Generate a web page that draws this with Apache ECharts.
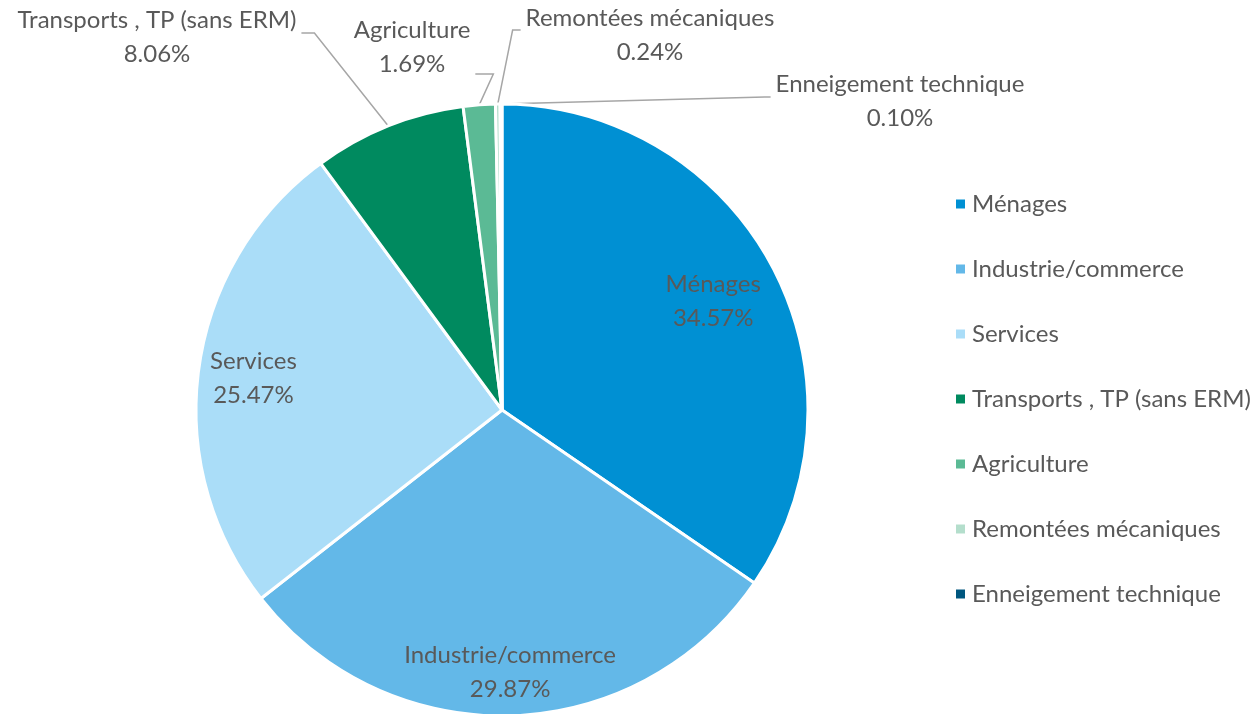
<!DOCTYPE html>
<html>
<head>
<meta charset="utf-8">
<script src="https://cdn.jsdelivr.net/npm/echarts@6/dist/echarts.min.js"></script>
<style>
  html, body { margin: 0; padding: 0; background: #fff; }
  #chart { width: 1258px; height: 714px; }
</style>
</head>
<body>
<div id="chart"></div>
<script>
// données
var categories = ['Ménages', 'Industrie/commerce', 'Services', 'Transports , TP (sans ERM)', 'Agriculture', 'Remontées mécaniques', 'Enneigement technique'];
var values = [34.57, 29.87, 25.47, 8.06, 1.69, 0.24, 0.10];
var colors = ['#0090D3', '#63B8E8', '#AADDF8', '#008A5F', '#5BBA95', '#B4DECC', '#00577F'];

var CX = 502, CY = 410, R = 306;

// placement des étiquettes (intérieur : fraction du rayon ; extérieur : position fixe)
var labelPos = [
  { inside: 0.78 },
  { inside: 0.85 },
  { inside: 0.82 },
  { cx: 157, cy: 37, side: 'right', ly: 33, len: 13 },
  { cx: 412, cy: 47, side: 'right', ly: 74, len: 18 },
  { cx: 650, cy: 35, side: 'left', ly: 30, len: 8 },
  { cx: 900, cy: 101, side: 'left', ly: 97, len: 6 }
];

var total = values.reduce(function (a, b) { return a + b; }, 0);
var mids = [];
(function () {
  var cum = 0;
  values.forEach(function (v) {
    mids.push((cum + v / 2) / total * 2 * Math.PI);
    cum += v;
  });
})();

var chart = echarts.init(document.getElementById('chart'));
var font = 'Lato, "Open Sans", sans-serif';
var fs = 24;

var option = {
  animation: false,
  color: colors,
  legend: {
    orient: 'vertical',
    left: 949,
    top: 185,
    icon: 'rect',
    itemWidth: 11,
    itemHeight: 11,
    itemGap: 37,
    textStyle: { color: '#595959', fontSize: fs, fontFamily: font, lineHeight: 28, padding: [0, 0, 0, 1] },
    data: categories
  },
  series: [{
    type: 'pie',
    center: [CX, CY],
    radius: R,
    startAngle: 90,
    clockwise: true,
    avoidLabelOverlap: false,
    itemStyle: { borderColor: '#fff', borderWidth: 3 },
    label: {
      show: true,
      color: '#595959',
      fontSize: fs,
      fontFamily: font,
      lineHeight: 34,
      align: 'center',
      formatter: function (p) {
        return p.name + '\n' + p.value.toFixed(2) + '%';
      }
    },
    labelLine: { show: true, length: 10, length2: 10, lineStyle: { color: '#A6A6A6', width: 1.5 } },
    labelLayout: function (params) {
      var i = params.dataIndex;
      var lp = labelPos[i];
      var m = mids[i];
      if (lp.inside) {
        return {
          x: CX + R * lp.inside * Math.sin(m),
          y: CY - R * lp.inside * Math.cos(m) + 2,
          align: 'center',
          verticalAlign: 'middle'
        };
      }
      var w = params.labelRect.width;
      var p0 = [CX + R * Math.sin(m), CY - R * Math.cos(m)];
      var ex, p1, p2;
      if (lp.side === 'right') {
        ex = lp.cx + w / 2 + 5;
        p2 = [ex, lp.ly];
        p1 = [ex + lp.len, lp.ly];
      } else {
        ex = lp.cx - w / 2 - 5;
        p2 = [ex, lp.ly];
        p1 = [ex - lp.len, lp.ly];
      }
      return {
        x: lp.cx,
        y: lp.cy,
        align: 'center',
        verticalAlign: 'middle',
        labelLinePoints: [p0, p1, p2]
      };
    },
    data: categories.map(function (c, i) {
      var inside = !!labelPos[i].inside;
      return {
        name: c,
        value: values[i],
        label: { position: inside ? 'inside' : 'outside' },
        labelLine: { show: !inside }
      };
    })
  }]
};

chart.setOption(option);
</script>
</body>
</html>
